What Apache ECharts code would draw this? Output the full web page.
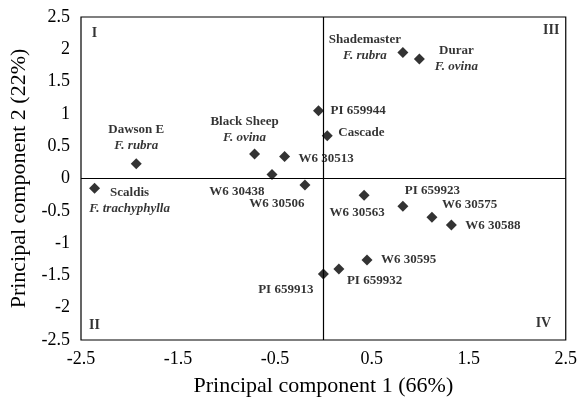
<!DOCTYPE html>
<html><head><meta charset="utf-8">
<script src="https://cdn.jsdelivr.net/npm/echarts@6/dist/echarts.min.js"></script>
<style>html,body{margin:0;padding:0;background:#fff}#c{width:580px;height:402px}</style>
</head><body><div id="c"></div>
<script>
const names = ['Scaldis','Dawson E','Black Sheep','W6 30513','W6 30438','W6 30506','PI 659944','Cascade','Shademaster','Durar','W6 30563','PI 659923','W6 30575','W6 30588','W6 30595','PI 659932','PI 659913'];
const pc1 = [-2.36,-1.93,-0.71,-0.40,-0.53,-0.19,-0.05,0.04,0.82,0.99,0.42,0.82,1.12,1.32,0.45,0.16,0.00];
const pc2 = [-0.15,0.23,0.38,0.34,0.06,-0.10,1.05,0.66,1.95,1.85,-0.26,-0.43,-0.60,-0.72,-1.26,-1.40,-1.48];
const species = ['F. trachyphylla','F. rubra','F. ovina','','','','','','F. rubra','F. ovina','','','','','','',''];
const xTicks = [-2.5,-1.5,-0.5,0.5,1.5,2.5];
const quadNames = ['I','II','III','IV'];
const quadX = [-2.36,-2.36,2.35,2.27];
const quadY = [2.25,-2.27,2.30,-2.25];

// label placement (style only): [dx, dy, align]
const labelPos = {
  'Scaldis':[35,12,'center'], 'Dawson E':[0,-26,'center'], 'Black Sheep':[-10,-24,'center'],
  'W6 30513':[14,2,'left'], 'W6 30438':[-35,17,'center'], 'W6 30506':[-28,19,'center'],
  'PI 659944':[12,0,'left'], 'Cascade':[11,-3,'left'], 'Shademaster':[-38,-5,'center'],
  'Durar':[37,0,'center'], 'W6 30563':[-7,17,'center'], 'PI 659923':[2,-16,'left'],
  'W6 30575':[10,-13,'left'], 'W6 30588':[14,1,'left'], 'W6 30595':[14,0,'left'],
  'PI 659932':[8,12,'left'], 'PI 659913':[-10,16,'right']
};
const FONT = '"Liberation Serif","Times New Roman",serif';

const pts = names.map((n,i)=>{
  const p = labelPos[n];
  return {
    name:n, value:[pc1[i],pc2[i]],
    label:{
      show:true, position:'inside', offset:[p[0],p[1]], align:p[2], verticalAlign:'middle',
      formatter: species[i] ? '{b|'+n+'}\n{i|'+species[i]+'}' : '{b|'+n+'}',
      rich:{
        b:{fontFamily:FONT,fontWeight:'bold',fontSize:13,color:'#000',lineHeight:16,align:p[2]},
        i:{fontFamily:FONT,fontWeight:'bold',fontStyle:'italic',fontSize:13,color:'#000',lineHeight:16,align:p[2]}
      }
    }
  };
});
const quads = quadNames.map((n,i)=>({name:n,value:[quadX[i],quadY[i]]}));

const chart = echarts.init(document.getElementById('c'));
chart.setOption({
  animation:false,
  backgroundColor:'#fff',
  grid:{left:81,right:13,top:17,bottom:61,show:true,borderColor:'#000',borderWidth:1.2},
  xAxis:{
    type:'value', min:-2.5, max:2.5, interval:1,
    name:'Principal component 1 (66%)', nameLocation:'middle', nameGap:35,
    nameTextStyle:{fontFamily:FONT,fontSize:22,color:'#000'},
    axisLine:{show:false}, axisTick:{show:false}, splitLine:{show:false},
    axisLabel:{fontFamily:FONT,fontSize:18,color:'#000',margin:10,
      customValues: xTicks, formatter:v=>String(v)}
  },
  yAxis:{
    type:'value', min:-2.5, max:2.5, interval:0.5,
    name:'Principal component 2 (22%)', nameLocation:'middle', nameGap:46,
    nameTextStyle:{fontFamily:FONT,fontSize:22,color:'#000'},
    axisLine:{show:false}, axisTick:{show:false}, splitLine:{show:false},
    axisLabel:{fontFamily:FONT,fontSize:18,color:'#000',margin:11}
  },
  series:[
    {
      type:'scatter', symbol:'diamond', symbolSize:11,
      itemStyle:{color:'#000'}, data:pts, z:3,
      markLine:{silent:true, symbol:'none', label:{show:false},
        lineStyle:{color:'#000',width:1.2,type:'solid'},
        data:[{xAxis:0},{yAxis:0}]}
    },
    {
      type:'scatter', symbolSize:0, data:quads, silent:true,
      label:{show:true, position:'inside', formatter:'{b}',
        fontFamily:FONT, fontWeight:'bold', fontSize:14, color:'#000'}
    }
  ]
});
</script></body></html>
